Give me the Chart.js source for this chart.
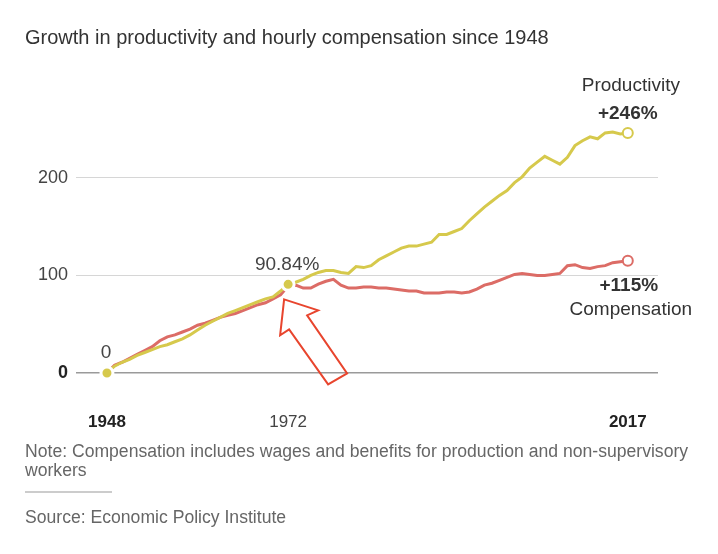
<!DOCTYPE html>
<html>
<head>
<meta charset="utf-8">
<script src="https://cdn.jsdelivr.net/npm/chart.js@4/dist/chart.umd.min.js"></script>
<style>
  html, body { margin: 0; padding: 0; background: #fff; }
  body { width: 718px; height: 554px; position: relative; overflow: hidden; font-family: "Liberation Sans", Arial, sans-serif; }
  #wrap { position: absolute; left: 0; top: 0; width: 718px; height: 554px; }
  .txt { position: absolute; left: 25px; color: #555; white-space: nowrap; }
  #title { top: 26px; font-size: 20px; color: #333; }
  #note { top: 442px; font-size: 17.6px; line-height: 19px; white-space: normal; width: 685px; color: #666; }
  #rule { position: absolute; left: 25px; top: 491px; width: 87px; height: 2px; background: #ccc; }
  #source { top: 507px; font-size: 17.6px; color: #666; }
</style>
</head>
<body>
<div id="wrap"><canvas id="gapChart" width="718" height="554"></canvas></div>
<div class="txt" id="title">Growth in productivity and hourly compensation since 1948</div>
<div class="txt" id="note">Note: Compensation includes wages and benefits for production and non-supervisory workers</div>
<div id="rule"></div>
<div class="txt" id="source">Source: Economic Policy Institute</div>

<script>
// data kumulatif % sejak 1948
const years = [
    1948, 1949, 1950, 1951, 1952, 1953, 1954, 1955, 1956, 1957,
    1958, 1959, 1960, 1961, 1962, 1963, 1964, 1965, 1966, 1967,
    1968, 1969, 1970, 1971, 1972, 1973, 1974, 1975, 1976, 1977,
    1978, 1979, 1980, 1981, 1982, 1983, 1984, 1985, 1986, 1987,
    1988, 1989, 1990, 1991, 1992, 1993, 1994, 1995, 1996, 1997,
    1998, 1999, 2000, 2001, 2002, 2003, 2004, 2005, 2006, 2007,
    2008, 2009, 2010, 2011, 2012, 2013, 2014, 2015, 2016, 2017
];
const productivity = [
    0, 7, 11, 14, 18, 21, 24, 27, 29, 32,
    35, 39, 44, 49, 53, 57, 61, 64, 67, 70,
    73, 76, 78, 84, 90.84, 93, 96, 100, 103, 105,
    105, 103, 102, 109, 108, 110, 116, 120, 124, 128,
    130, 130, 132, 134, 142, 142, 145, 148, 156, 163,
    170, 176, 182, 187, 195, 201, 210, 216, 222, 218,
    214, 221, 233, 238, 242, 240, 246, 247, 245, 246
];
const compensation = [
    0, 8, 11, 15, 19, 23, 27, 33, 37, 39,
    42, 45, 49, 51, 54, 57, 59, 61, 64, 67,
    70, 72, 76, 80, 89, 90, 87, 87, 91, 94,
    96, 90, 87, 87, 88, 88, 87, 87, 86, 85,
    84, 84, 82, 82, 82, 83, 83, 82, 83, 86,
    90, 92, 95, 98, 101, 102, 101, 100, 100, 101,
    102, 110, 111, 108, 107, 109, 110, 113, 114, 115
];
const tickYears = [1948, 1972, 2017];
const boldYears = [1948, 2017];
const yTicks = [0, 100, 200];
const markYears = [1948, 1972];

const YELLOW = '#d6c94c';
const RED = '#dc6c66';
const FONT = '"Liberation Sans", Arial, sans-serif';

const lastIdx = years.length - 1;

function toPoints(values) {
    return values.map((v, i) => ({ x: years[i], y: v }));
}

function tickVal(c) {
    return c && c.tick ? c.tick.value : null;
}

// label teks dan panah anotasi, ditempel ke titik data
const annotations = {
    id: 'annotations',
    afterDatasetsDraw(chart) {
        const ctx = chart.ctx;
        const prod = chart.getDatasetMeta(0).data;
        const comp = chart.getDatasetMeta(1).data;
        const start = prod[0];
        const mid = prod[years.indexOf(1972)];
        const pEnd = prod[lastIdx];
        const cEnd = comp[lastIdx];

        ctx.save();
        ctx.textAlign = 'center';
        ctx.textBaseline = 'middle';
        ctx.fillStyle = '#444';
        ctx.font = '19px ' + FONT;
        ctx.fillText('0', start.x - 1, start.y - 20);
        ctx.fillText('90.84%', mid.x - 1, mid.y - 20);

        ctx.fillStyle = '#333';
        ctx.fillText('Productivity', pEnd.x + 3, pEnd.y - 47);
        ctx.fillText('Compensation', cEnd.x + 3, cEnd.y + 49);
        ctx.font = 'bold 19px ' + FONT;
        ctx.fillText('+' + Math.round(productivity[lastIdx]) + '%', pEnd.x, pEnd.y - 19);
        ctx.fillText('+' + Math.round(compensation[lastIdx]) + '%', cEnd.x + 1, cEnd.y + 25);

        // panah merah menunjuk ke 1972
        const ax = mid.x, ay = mid.y;
        const arrow = [[-4, 15], [30, 26], [19, 31], [59, 89], [40, 100], [1, 45], [-8, 51]];
        ctx.beginPath();
        arrow.forEach((p, i) => {
            if (i === 0) ctx.moveTo(ax + p[0], ay + p[1]);
            else ctx.lineTo(ax + p[0], ay + p[1]);
        });
        ctx.closePath();
        ctx.lineWidth = 2;
        ctx.lineJoin = 'miter';
        ctx.strokeStyle = '#e8452e';
        ctx.stroke();
        ctx.restore();
    }
};

const data = {
    datasets: [
        {
            label: 'Productivity',
            data: toPoints(productivity),
            borderColor: YELLOW,
            borderWidth: 3,
            tension: 0,
            clip: false,
            pointRadius: (c) => (markYears.includes(years[c.dataIndex]) ? 6 : c.dataIndex === lastIdx ? 5 : 0),
            pointBackgroundColor: (c) => (c.dataIndex === lastIdx ? '#fff' : YELLOW),
            pointBorderColor: (c) => (c.dataIndex === lastIdx ? YELLOW : '#fff'),
            pointBorderWidth: (c) => (c.dataIndex === lastIdx ? 2 : 3)
        },
        {
            label: 'Compensation',
            data: toPoints(compensation),
            borderColor: RED,
            borderWidth: 3,
            tension: 0,
            clip: false,
            pointRadius: (c) => (c.dataIndex === lastIdx ? 5 : 0),
            pointBackgroundColor: '#fff',
            pointBorderColor: RED,
            pointBorderWidth: 2
        }
    ]
};

const config = {
    type: 'line',
    data: data,
    options: {
        responsive: false,
        animation: false,
        layout: { padding: { top: 129, left: 0, right: 60, bottom: 0 } },
        scales: {
            x: {
                type: 'linear',
                min: 1943.9,
                max: 2021,
                grid: { display: false },
                border: { display: false },
                afterBuildTicks: (scale) => { scale.ticks = tickYears.map(v => ({ value: v })); },
                afterFit: (scale) => { scale.height = 181; },
                ticks: {
                    padding: 31,
                    color: (c) => (boldYears.includes(tickVal(c)) ? '#222' : '#444'),
                    font: (c) => ({ family: FONT, size: 17, weight: boldYears.includes(tickVal(c)) ? 'bold' : 'normal' }),
                    callback: (v) => String(v),
                    maxRotation: 0,
                    autoSkip: false
                }
            },
            y: {
                min: 0,
                max: 250,
                grid: {
                    drawTicks: false,
                    color: (c) => (tickVal(c) === 0 ? '#9a9a9a' : '#d6d6d6'),
                    lineWidth: (c) => (tickVal(c) === 0 ? 1.5 : 1)
                },
                border: { display: false },
                afterBuildTicks: (scale) => { scale.ticks = yTicks.map(v => ({ value: v })); },
                afterFit: (scale) => { scale.width = 76; },
                ticks: {
                    padding: 8,
                    color: (c) => (tickVal(c) === 0 ? '#222' : '#444'),
                    font: (c) => ({ family: FONT, size: 18, weight: tickVal(c) === 0 ? 'bold' : 'normal' })
                }
            }
        },
        plugins: {
            legend: { display: false },
            tooltip: { enabled: false }
        }
    },
    plugins: [annotations]
};

new Chart(document.getElementById('gapChart'), config);
</script>
</body>
</html>
